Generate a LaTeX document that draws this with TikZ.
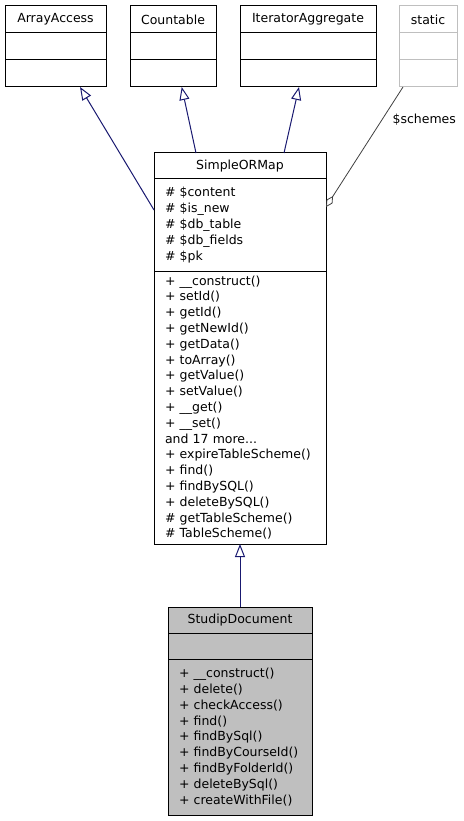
\documentclass[tikz,border=0pt]{standalone}
\usepackage{fontspec}
\setmainfont{DejaVu Sans}
\usetikzlibrary{positioning,arrows.meta}
\definecolor{edgeblue}{HTML}{191970}
\definecolor{edgegray}{HTML}{404040}
\definecolor{boxgray}{HTML}{BFBFBF}
\begin{document}
\begin{tikzpicture}[x=1pt, y=-1pt, node distance=0pt,
  class title/.style={rectangle, draw, line width=1pt, inner sep=0pt, outer sep=0pt, align=center},
  class part/.style={rectangle, draw, line width=1pt, inner xsep=11pt, inner ysep=0pt, outer sep=0pt, align=left},
  inherit/.style={-{Triangle[open, length=13pt, width=10pt]}, draw=edgeblue, line width=1pt},
  member/.style={{Diamond[open, length=13pt, width=7pt]}-, draw=edgegray, line width=0.8pt}]
  \tikzstyle{every node}=[font=\fontsize{12.5}{15.8}\selectfont]
  \useasboundingbox (0,0) rectangle (463,821);

  % interfaces on top
  \node[class title, anchor=north west, minimum width=101pt, minimum height=27pt] (1) at (5,6) {ArrayAccess};
  \node[class part, text width=79pt, minimum height=27pt] (1a) [below=of 1] {};
  \node[class part, text width=79pt, minimum height=27pt] (1b) [below=of 1a] {};

  \node[class title, anchor=north west, minimum width=86pt, minimum height=27pt] (2) at (130,6) {Countable};
  \node[class part, text width=64pt, minimum height=27pt] (2a) [below=of 2] {};
  \node[class part, text width=64pt, minimum height=27pt] (2b) [below=of 2a] {};

  \node[class title, anchor=north west, minimum width=136pt, minimum height=27pt] (3) at (240,6) {IteratorAggregate};
  \node[class part, text width=114pt, minimum height=27pt] (3a) [below=of 3] {};
  \node[class part, text width=114pt, minimum height=27pt] (3b) [below=of 3a] {};

  \node[class title, draw=boxgray, anchor=north west, minimum width=58pt, minimum height=27pt] (4) at (399,6) {static};
  \node[class part, draw=boxgray, text width=36pt, minimum height=27pt] (4a) [below=of 4] {};
  \node[class part, draw=boxgray, text width=36pt, minimum height=27pt] (4b) [below=of 4a] {};

  % base class
  \node[class title, anchor=north west, minimum width=172pt, minimum height=26pt] (5) at (154,153) {SimpleORMap};
  \node[class part, text width=150pt, minimum height=92pt] (5a) [below=of 5]
    {\# \$content\\\# \$is\_new\\\# \$db\_table\\\# \$db\_fields\\\# \$pk};
  \node[class part, text width=150pt, minimum height=273pt] (5b) [below=of 5a]
    {+ \_\_construct()\\+ setId()\\+ getId()\\+ getNewId()\\+ getData()\\+ toArray()\\+ getValue()\\+ setValue()\\+ \_\_get()\\+ \_\_set()\\and 17 more...\\+ expireTableScheme()\\+ find()\\+ findBySQL()\\+ deleteBySQL()\\\# getTableScheme()\\\# TableScheme()};

  % the class itself
  \node[class title, fill=boxgray, anchor=north west, minimum width=144pt, minimum height=26pt] (6) at (168,607) {StudipDocument};
  \node[class part, fill=boxgray, text width=122pt, minimum height=26pt] (6a) [below=of 6] {};
  \node[class part, fill=boxgray, text width=122pt, minimum height=156pt] (6b) [below=of 6a]
    {+ \_\_construct()\\+ delete()\\+ checkAccess()\\+ find()\\+ findBySql()\\+ findByCourseId()\\+ findByFolderId()\\+ deleteBySql()\\+ createWithFile()};

  \draw[inherit] ([yshift=15pt]5a.west) -- ([xshift=24.5pt]1b.south);
  \draw[inherit] ([xshift=-44pt]5.north) -- ([xshift=8.7pt]2b.south);
  \draw[inherit] ([xshift=44pt]5.north) -- ([xshift=-9pt]3b.south);
  \draw[member] ([yshift=18pt]5a.east) -- ([xshift=-25pt]4b.south)
    node[pos=0.725, right=7pt] {\$schemes};
  \draw[inherit] (6.north) -- (5b.south);
\end{tikzpicture}
\end{document}
